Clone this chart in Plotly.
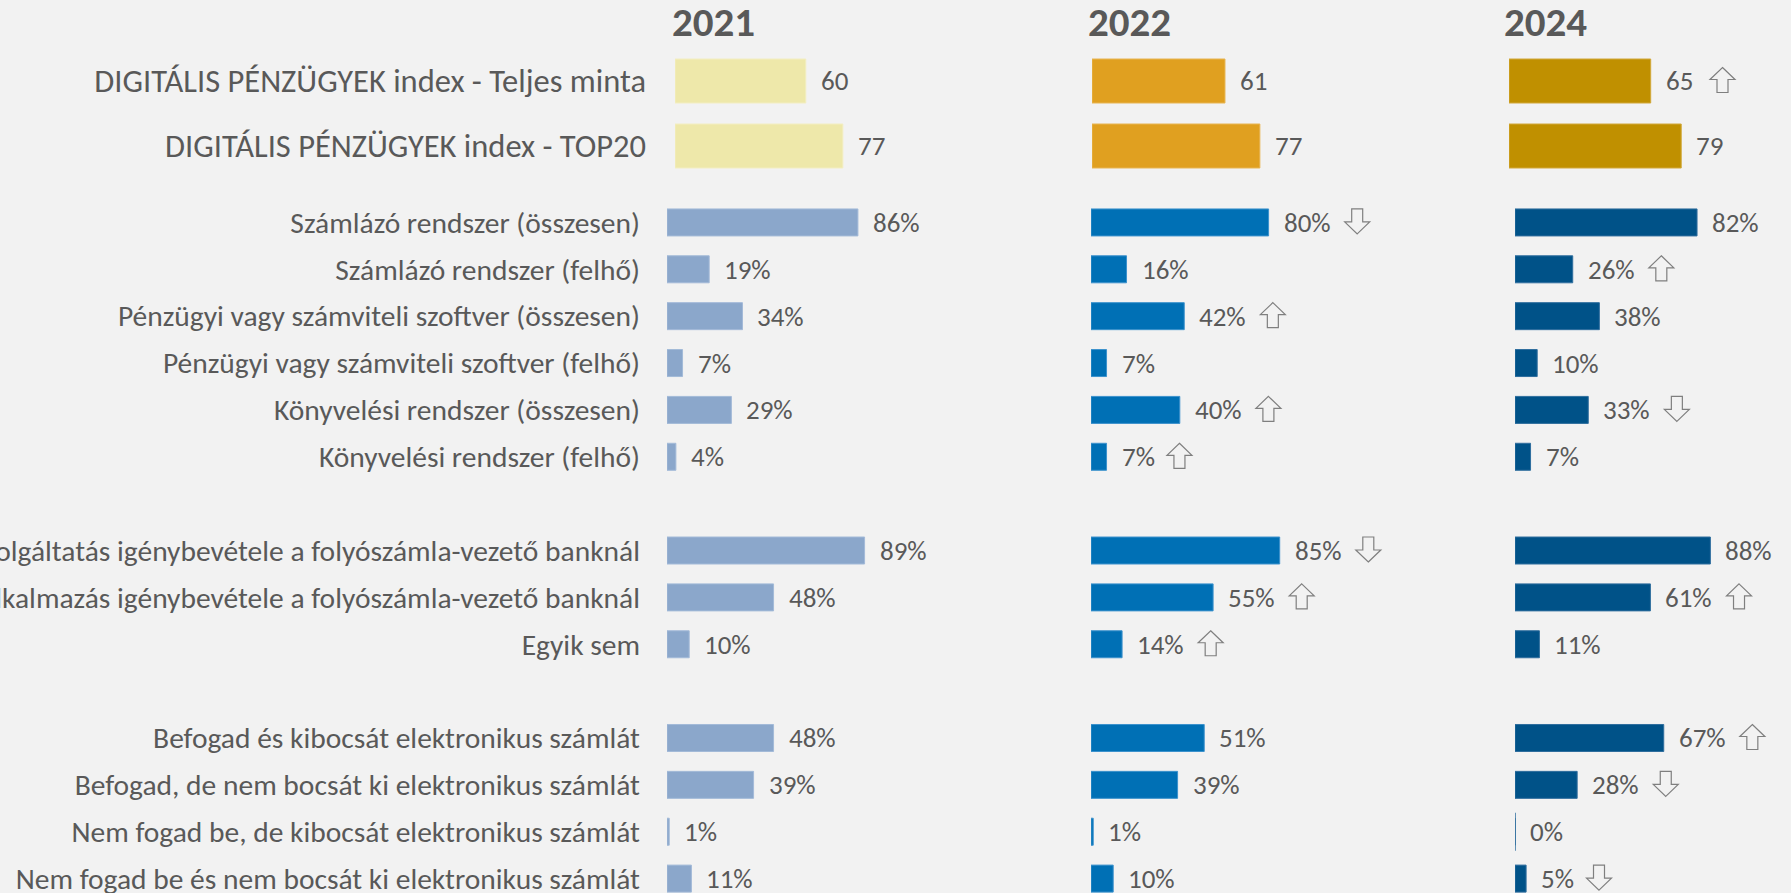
import math
import plotly.graph_objects as go

# ---------------- data ----------------
years = ["2021", "2022", "2024"]

index_labels = [
    "DIGITÁLIS PÉNZÜGYEK index - Teljes minta",
    "DIGITÁLIS PÉNZÜGYEK index - TOP20",
]
index_2021 = [60, 77]
index_2022 = [61, 77]
index_2024 = [65, 79]
index_trend_2021 = [None, None]
index_trend_2022 = [None, None]
index_trend_2024 = ["up", None]

item_labels = [
    "Számlázó rendszer (összesen)",
    "Számlázó rendszer (felhő)",
    "Pénzügyi vagy számviteli szoftver (összesen)",
    "Pénzügyi vagy számviteli szoftver (felhő)",
    "Könyvelési rendszer (összesen)",
    "Könyvelési rendszer (felhő)",
    "",
    "Internetbanki szolgáltatás igénybevétele a folyószámla-vezető banknál",
    "Mobilbanki alkalmazás igénybevétele a folyószámla-vezető banknál",
    "Egyik sem",
    "",
    "Befogad és kibocsát elektronikus számlát",
    "Befogad, de nem bocsát ki elektronikus számlát",
    "Nem fogad be, de kibocsát elektronikus számlát",
    "Nem fogad be és nem bocsát ki elektronikus számlát",
]
item_2021 = [86, 19, 34, 7, 29, 4, None, 89, 48, 10, None, 48, 39, 1, 11]
item_2022 = [80, 16, 42, 7, 40, 7, None, 85, 55, 14, None, 51, 39, 1, 10]
item_2024 = [82, 26, 38, 10, 33, 7, None, 88, 61, 11, None, 67, 28, 0, 5]
trend_2021 = [None] * 15
trend_2022 = ["down", None, "up", None, "up", "up", None, "down", "up", "up", None, None, None, None, None]
trend_2024 = [None, "up", None, None, "down", None, None, None, "up", None, None, "up", "down", None, "down"]

# ---------------- style ----------------
W, H = 1791, 893
BG = "#F2F2F2"
TXT = "#595959"
ARROW_C = "#7F7F7F"
FONT = "Calibri, Carlito, Lato, sans-serif"
FS_INDEX_LAB = 32.5
FS_ITEM_LAB = 29.5
FS_VAL = 27
FS_TITLE = 41

index_colors = ["#EEE8AA", "#E0A020", "#C09000"]
index_edges = ["#F3EEC2", "#E8B552", "#D2A83A"]
item_colors = ["#8BA7CB", "#0070B5", "#005288"]
item_edges = ["#A3BAD8", "#3C92CD", "#2F6E9E"]

# pixel layout of columns (zero of each bar scale) and pixels per unit
index_x0 = [675, 1092, 1509]
index_ppu = 2.18
item_x0 = [667, 1091, 1515]
item_ppu = 2.22
title_cx = [713, 1129, 1545]

index_dom_px = (48.5, 178.5)
item_dom_top_px = 199.0
row_px = 46.86
last_center_px = 878.6

LABEL_SHIFT = 13
ARROW_GAP = 12


def fx(px):
    return px / W


def fy(px):
    return 1 - px / H


def axis_extent(x0, ppu):
    rmax = min(150, math.floor((W - x0) / ppu))
    return rmax, [fx(x0), fx(x0 + rmax * ppu)]


def text_width(s, size):
    w = 0.0
    for ch in s:
        if ch.isdigit():
            w += 0.58
        elif ch == "%":
            w += 0.62
        else:
            w += 0.3
    return w * size


def arrow_path(direction, dx):
    # hollow block arrow, pixel offsets relative to anchor (y up)
    s = 1 if direction == "up" else -1
    pts = [(0, 12.5), (12.5, 0.5), (5.5, 0.5), (5.5, -12.5),
           (-5.5, -12.5), (-5.5, 0.5), (-12.5, 0.5)]
    return "M " + " L ".join(f"{dx + px:.1f},{s * py + 1:.1f}" for px, py in pts) + " Z"


fig = go.Figure()
annotations = []
shapes = []

index_vals = [index_2021, index_2022, index_2024]
index_trends = [index_trend_2021, index_trend_2022, index_trend_2024]
item_vals = [item_2021, item_2022, item_2024]
item_trends = [trend_2021, trend_2022, trend_2024]

index_pos = list(range(len(index_labels)))
item_pos = list(range(len(item_labels)))

layout_axes = {}


def add_labels(vals, trends, pos, xr, yr, pct):
    for p, v, t in zip(pos, vals, trends):
        if v is None:
            continue
        s = f"{v}%" if pct else f"{v}"
        annotations.append(dict(
            x=v, y=p, xref=xr, yref=yr, xanchor="left", yanchor="middle",
            xshift=LABEL_SHIFT, showarrow=False, text=s,
            font=dict(family=FONT, size=FS_VAL, color=TXT),
        ))
        if t:
            dx = LABEL_SHIFT + 3 + text_width(s, FS_VAL) + ARROW_GAP + 12.5
            shapes.append(dict(
                type="path", xref=xr, yref=yr,
                xsizemode="pixel", ysizemode="pixel",
                xanchor=v, yanchor=p, path=arrow_path(t, dx),
                line=dict(color=ARROW_C, width=1.2), fillcolor=BG,
                layer="above",
            ))


for c in range(3):
    xi = "x" if c == 0 else f"x{c + 1}"
    yi = "y" if c == 0 else f"y{c + 1}"
    xb = f"x{c + 4}"
    yb = f"y{c + 4}"

    # index bars
    fig.add_trace(go.Bar(
        x=index_vals[c], y=index_pos, orientation="h",
        xaxis=xi, yaxis=yi, width=0.677,
        marker=dict(color=index_colors[c], line=dict(color=index_edges[c], width=1)),
        hoverinfo="skip", showlegend=False,
    ))
    add_labels(index_vals[c], index_trends[c], index_pos, xi, yi, False)

    # item bars
    fig.add_trace(go.Bar(
        x=item_vals[c], y=item_pos, orientation="h",
        xaxis=xb, yaxis=yb, width=0.576,
        marker=dict(color=item_colors[c], line=dict(color=item_edges[c], width=1)),
        hoverinfo="skip", showlegend=False,
    ))
    zero_rows = [p for p, v in zip(item_pos, item_vals[c]) if v == 0]
    if zero_rows:
        fig.add_trace(go.Scatter(
            x=[0] * len(zero_rows), y=zero_rows, mode="markers",
            xaxis=xb, yaxis=yb,
            marker=dict(symbol="line-ns", size=27, line=dict(color=item_edges[c], width=1.5)),
            hoverinfo="skip", showlegend=False,
        ))
    add_labels(item_vals[c], item_trends[c], item_pos, xb, yb, True)

    # year title
    annotations.append(dict(
        x=fx(title_cx[c]), y=fy(22), xref="paper", yref="paper",
        xanchor="center", yanchor="middle", showarrow=False,
        text=f"<b>{years[c]}</b>",
        font=dict(family=FONT, size=FS_TITLE, color=TXT),
    ))

    # axes
    xkey_i = "xaxis" if c == 0 else f"xaxis{c + 1}"
    ykey_i = "yaxis" if c == 0 else f"yaxis{c + 1}"
    r_i, dom_i = axis_extent(index_x0[c], index_ppu)
    layout_axes[xkey_i] = dict(
        domain=dom_i, range=[0, r_i], visible=False, anchor=yi, fixedrange=True,
    )
    layout_axes[ykey_i] = dict(
        domain=[fy(index_dom_px[1]), fy(index_dom_px[0])], anchor=xi,
        tickmode="array", tickvals=index_pos, ticktext=index_labels,
        range=[len(index_labels) - 0.5, -0.5], showgrid=False, zeroline=False,
        showline=False, ticks="", showticklabels=(c == 0), ticklabelstandoff=28,
        tickfont=dict(family=FONT, size=FS_INDEX_LAB, color=TXT), automargin=False,
        ticklabeloverflow="allow", fixedrange=True,
    )
    r_b, dom_b = axis_extent(item_x0[c], item_ppu)
    layout_axes[f"xaxis{c + 4}"] = dict(
        domain=dom_b, range=[0, r_b], visible=False, anchor=yb, fixedrange=True,
    )
    n = len(item_labels)
    bottom_val = (n - 1) + (H - last_center_px) / row_px
    layout_axes[f"yaxis{c + 4}"] = dict(
        domain=[0, fy(item_dom_top_px)], anchor=xb,
        tickmode="array", tickvals=item_pos, ticktext=item_labels,
        range=[bottom_val, -0.5], showgrid=False, zeroline=False, showline=False,
        ticks="", showticklabels=(c == 0), ticklabelstandoff=26,
        tickfont=dict(family=FONT, size=FS_ITEM_LAB, color=TXT), automargin=False,
        ticklabeloverflow="allow", fixedrange=True,
    )

fig.update_layout(
    width=W, height=H,
    margin=dict(l=0, r=0, t=0, b=0, pad=0),
    paper_bgcolor=BG, plot_bgcolor=BG,
    barmode="overlay",
    annotations=annotations,
    shapes=shapes,
    font=dict(family=FONT, size=FS_VAL, color=TXT),
    **layout_axes,
)

fig.write_html(
    "out.html",
    config={"displayModeBar": False},
    post_script="document.body.style.margin='0';document.body.style.overflow='hidden';",
)
